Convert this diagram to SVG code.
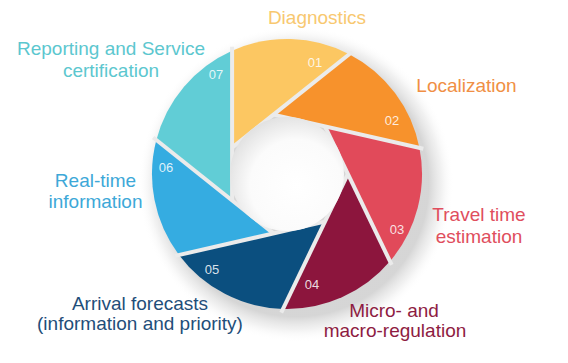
<svg xmlns="http://www.w3.org/2000/svg" width="568" height="363" viewBox="0 0 568 363">
  <defs>
    <radialGradient id="shadow" cx="0.5" cy="0.5" r="0.5">
      <stop offset="0.84" stop-color="#c8c8c8" stop-opacity="0.75"/>
      <stop offset="0.92" stop-color="#dcdcdc" stop-opacity="0.4"/>
      <stop offset="1" stop-color="#ffffff" stop-opacity="0"/>
    </radialGradient>
    <radialGradient id="hole" cx="0.58" cy="0.6" r="0.62">
      <stop offset="0" stop-color="#ffffff"/>
      <stop offset="0.65" stop-color="#fbfbfb"/>
      <stop offset="1" stop-color="#e2e2e2"/>
    </radialGradient>
  </defs>
  <style>
    .lbl { font-family: "Liberation Sans", Arial, sans-serif; font-size: 19px; text-anchor: middle; }
    .num { font-family: "Liberation Sans", Arial, sans-serif; font-size: 13px; text-anchor: middle; fill: #ffffff; fill-opacity: 0.85; }
    .sep { stroke: #ebebeb; stroke-width: 4; fill: none; }
  </style>
  <rect width="568" height="363" fill="#ffffff"/>
  <circle cx="296" cy="184" r="158" fill="url(#shadow)"/>

  <g id="blade-01">
    <path d="M232.09,50.67 A135,135 0 0 1 349.20,54.18 L232.09,147.57 Z" fill="#FCC762"/>
  </g>
  <g id="blade-02">
    <path d="M349.20,54.18 A135,135 0 0 1 419.46,147.91 L273.42,114.59 Z" fill="#F7922C"/>
  </g>
  <g id="blade-03">
    <path d="M419.46,147.91 A135,135 0 0 1 389.97,261.31 L324.98,126.35 Z" fill="#E14A5A"/>
  </g>
  <g id="blade-04">
    <path d="M389.97,261.31 A135,135 0 0 1 282.96,308.94 L347.94,173.99 Z" fill="#8C153D"/>
  </g>
  <g id="blade-05">
    <path d="M282.96,308.94 A135,135 0 0 1 178.98,254.98 L325.01,221.63 Z" fill="#0B4F7F"/>
  </g>
  <g id="blade-06">
    <path d="M178.98,254.98 A135,135 0 0 1 156.34,140.04 L273.45,233.42 Z" fill="#35ACE1"/>
  </g>
  <g id="blade-07">
    <path d="M156.34,140.04 A135,135 0 0 1 232.09,50.67 L232.10,200.45 Z" fill="#61CDD6"/>
  </g>

  <g id="connectors">
    <line class="sep" x1="232.09" y1="46.67" x2="232.10" y2="200.45"/>
    <line class="sep" x1="352.33" y1="51.69" x2="232.09" y2="147.57"/>
    <line class="sep" x1="423.36" y1="148.80" x2="273.42" y2="114.59"/>
    <line class="sep" x1="391.71" y1="264.91" x2="324.98" y2="126.35"/>
    <line class="sep" x1="281.22" y1="312.54" x2="347.94" y2="173.99"/>
    <line class="sep" x1="175.08" y1="255.87" x2="325.01" y2="221.63"/>
    <line class="sep" x1="153.21" y1="137.55" x2="273.45" y2="233.42"/>
  </g>

  <g id="center">
    <circle cx="287" cy="174" r="57" fill="url(#hole)"/>
  </g>

  <g id="numbers">
    <text class="num" x="315" y="66.5">01</text>
    <text class="num" x="392" y="124.5">02</text>
    <text class="num" x="397" y="234">03</text>
    <text class="num" x="312" y="288.5">04</text>
    <text class="num" x="212" y="273.5">05</text>
    <text class="num" x="166" y="171.5">06</text>
    <text class="num" x="216" y="79">07</text>
  </g>

  <g id="labels">
    <text class="lbl" x="317" y="24" fill="#F8C870">Diagnostics</text>
    <text class="lbl" x="466.5" y="92" fill="#F08F44">Localization</text>
    <text class="lbl" fill="#E04E5D"><tspan x="479" y="221">Travel time</tspan><tspan x="479" y="243">estimation</tspan></text>
    <text class="lbl" fill="#8E1C42"><tspan x="394" y="317">Micro- and</tspan><tspan x="395" y="337">macro-regulation</tspan></text>
    <text class="lbl" fill="#1F4E7A"><tspan x="140" y="310">Arrival forecasts</tspan><tspan x="140" y="330">(information and priority)</tspan></text>
    <text class="lbl" fill="#3DA8D8"><tspan x="95.5" y="187">Real-time</tspan><tspan x="95.5" y="208">information</tspan></text>
    <text class="lbl" fill="#5CC7CF"><tspan x="111" y="55">Reporting and Service</tspan><tspan x="111" y="77">certification</tspan></text>
  </g>
</svg>
